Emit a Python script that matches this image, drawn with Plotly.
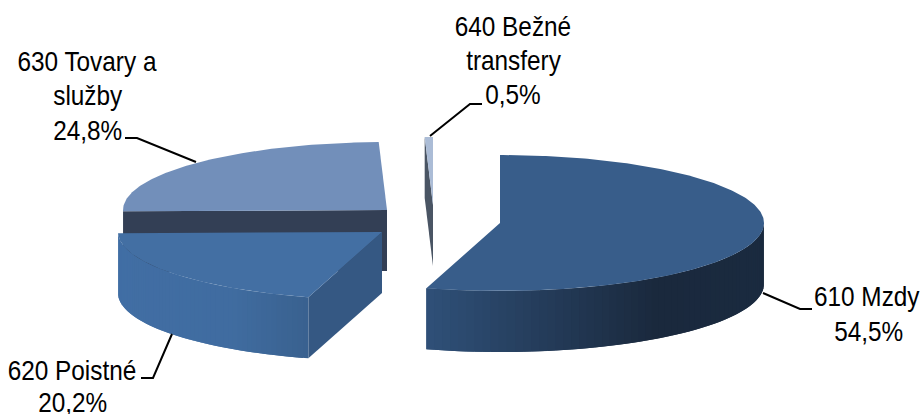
import math
import plotly.graph_objects as go

categories = ["610 Mzdy", "620 Poistné", "630 Tovary a služby", "640 Bežné transfery"]
values = [54.5, 20.2, 24.8, 0.5]

FONT = "Liberation Sans, Arial, sans-serif"
W, H = 922, 414
RX, RY, DEPTH = 264, 68, 61
centers = [(500, 223), (382, 232), (387, 210), (433, 205)]
top_colors = ["#385d8a", "#436fa3", "#728fba", "#abbcd6"]
cut_colors = ["#385d8a", "#355883", "#333f55", "#4a5564"]
wall_stops = [
    [(0.0, "#2f5078"), (0.68, "#1a293d"), (1.0, "#1a2a3f")],
    [(0.0, "#416ea4"), (0.6, "#406ca0"), (1.0, "#39618f")],
    [(0.0, "#333f55"), (1.0, "#333f55")],
    [(0.0, "#4a5564"), (1.0, "#4a5564")],
]
# leader: anchor, elbow, end of the short horizontal run (screen pixels)
leaders = [
    [(763, 293), (800, 309), (812, 309)],
    [(172, 334), (153, 378), (141, 378)],
    [(196, 162), (137, 138), (125, 138)],
    [(430, 136), (470, 104), (482, 104)],
]
label_lines = [
    [("610 Mzdy", 866, 296), ("{v}", 868, 331)],
    [("620 Poistné", 72, 370), ("{v}", 72, 402)],
    [("630 Tovary a", 87, 61), ("služby", 87, 95), ("{v}", 87, 130)],
    [("640 Bežné", 513, 26), ("transfery", 513, 60), ("{v}", 513, 94)],
]


def hex_rgb(c):
    return tuple(int(c[i:i + 2], 16) for i in (1, 3, 5))


def mix(stops, t):
    for (t0, c0), (t1, c1) in zip(stops, stops[1:]):
        if t <= t1:
            f = 0 if t1 == t0 else (t - t0) / (t1 - t0)
            a, b = hex_rgb(c0), hex_rgb(c1)
            return "rgb(%d,%d,%d)" % tuple(round(p + (q - p) * f) for p, q in zip(a, b))
    return stops[-1][1]


def rim(c, deg, drop=0):
    r = math.radians(deg)
    return c[0] + RX * math.sin(r), c[1] - RY * math.cos(r) + drop


fig = go.Figure()


def poly(pts, color):
    xs = [p[0] for p in pts] + [pts[0][0]]
    ys = [p[1] for p in pts] + [pts[0][1]]
    fig.add_trace(go.Scatter(x=xs, y=ys, mode="lines", fill="toself", fillcolor=color,
                             line=dict(color=color, width=0), hoverinfo="skip", showlegend=False))


def wedge(i, a0, a1):
    c = centers[i]
    # cut face at the start angle
    p = rim(c, a0)
    poly([c, p, (p[0], p[1] + DEPTH), (c[0], c[1] + DEPTH)], cut_colors[i])
    # outer wall, only where the rim faces the viewer
    lo, hi = max(a0, 90), min(a1, 270)
    if hi > lo:
        n = 60
        angs = [lo + (hi - lo) * k / n for k in range(n + 1)]
        x_all = [rim(c, a)[0] for a in angs]
        x_min, x_max = min(x_all), max(x_all)
        for k in range(n):
            seg = angs[k:k + 3]  # overlaps the next strip so no seam shows
            t = ((rim(c, angs[k])[0] + rim(c, angs[k + 1])[0]) / 2 - x_min) / (x_max - x_min)
            upper = [rim(c, a) for a in seg]
            lower = [(q[0], q[1] + DEPTH) for q in reversed(upper)]
            poly(upper + lower, mix(wall_stops[i], t))
    # top face
    n = max(4, int((a1 - a0) * 1.5))
    poly([c] + [rim(c, a0 + (a1 - a0) * k / n) for k in range(n + 1)], top_colors[i])


total = sum(values)
angles = []
acc = 0
for v in values:
    angles.append((acc / total * 360, (acc + v) / total * 360))
    acc += v

for i in (2, 1, 0, 3):
    wedge(i, *angles[i])

for pts in leaders:
    fig.add_trace(go.Scatter(x=[p[0] for p in pts], y=[p[1] for p in pts], mode="lines",
                             line=dict(color="#000000", width=2), hoverinfo="skip", showlegend=False))

annotations = []
for v, lines in zip(values, label_lines):
    pct = f"{v:.1f}%".replace(".", ",")
    for text, x, y in lines:
        annotations.append(dict(x=x, y=y, xref="x", yref="y", text=text.replace("{v}", pct),
                                showarrow=False, xanchor="center", yanchor="middle",
                                font=dict(family=FONT, size=28, color="#000000")))

fig.update_layout(
    width=W, height=H, margin=dict(l=0, r=0, t=0, b=0),
    paper_bgcolor="#ffffff", plot_bgcolor="#ffffff", showlegend=False,
    xaxis=dict(range=[0, W], visible=False, fixedrange=True),
    yaxis=dict(range=[H, 0], visible=False, fixedrange=True),
    annotations=annotations,
)
page_style = """
document.body.style.margin = '0';
document.body.style.overflow = 'hidden';
var s = document.createElement('style');
s.textContent = '.annotation-text{transform-box:fill-box;transform-origin:center;transform:scaleX(0.87);}';
document.head.appendChild(s);
"""
fig.write_html("out.html", config={"displayModeBar": False}, post_script=page_style)
